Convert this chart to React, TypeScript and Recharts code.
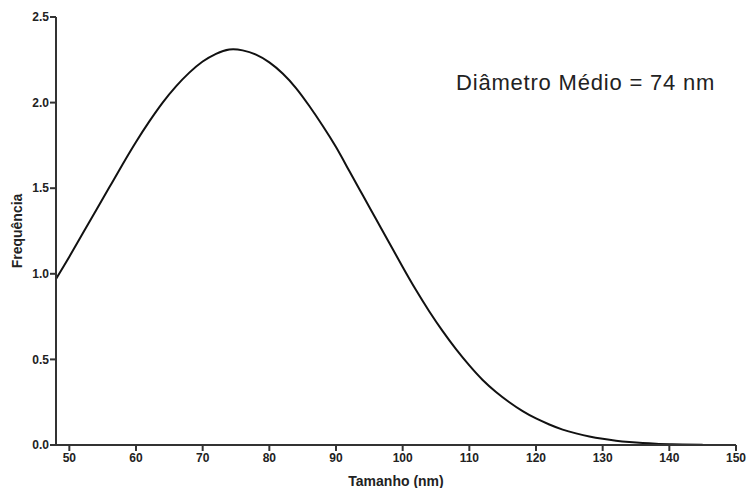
import { LineChart, Line, XAxis, YAxis } from "recharts";

const sizes = [
  48, 50, 52, 54, 56, 58, 60, 62, 64, 66, 68, 70, 72, 74, 76, 78, 80, 82, 84, 86,
  88, 90, 92, 94, 96, 98, 100, 102, 104, 106, 108, 110, 112, 114, 116, 118, 120,
  122, 124, 126, 128, 130, 132, 134, 136, 138, 140, 142, 145,
];
const frequency = [
  0.97, 1.1, 1.235, 1.37, 1.505, 1.64, 1.77, 1.89, 2.0, 2.095, 2.175, 2.24, 2.285,
  2.31, 2.305, 2.28, 2.235, 2.17, 2.085, 1.98, 1.865, 1.74, 1.6, 1.46, 1.32, 1.18,
  1.04, 0.905, 0.78, 0.665, 0.56, 0.465, 0.38, 0.31, 0.25, 0.198, 0.155, 0.12, 0.09,
  0.068, 0.05, 0.036, 0.025, 0.017, 0.011, 0.007, 0.0045, 0.003, 0.002,
];
const xTicks = [50, 60, 70, 80, 90, 100, 110, 120, 130, 140, 150];
const yTicks = [0, 0.5, 1, 1.5, 2, 2.5];

const data = sizes.map((s, i) => ({ size: s, freq: frequency[i] }));

const AXIS = "#333";
const FONT = "'Liberation Sans', Arial, sans-serif";
const tickStyle = {
  fontFamily: FONT,
  fontSize: 12,
  fontWeight: 700,
  fill: "#222",
};
const titleStyle = { ...tickStyle, fontSize: 14 };

function YTitle(props: any) {
  const vb = props.viewBox || {};
  const cy = (vb.y ?? 0) + (vb.height ?? 0) / 2;
  return (
    <text
      x={17}
      y={cy}
      transform={`rotate(-90 17 ${cy})`}
      textAnchor="middle"
      dominantBaseline="central"
      style={titleStyle}
    >
      Frequência
    </text>
  );
}

export default function App() {
  return (
    <div style={{ position: "absolute", left: 0, top: 0, width: 749, height: 488, background: "#fff" }}>
      <LineChart
        width={749}
        height={488}
        data={data}
        margin={{ top: 17, right: 13, bottom: 0, left: 0 }}
      >
        <XAxis
          dataKey="size"
          type="number"
          domain={[48, 150]}
          ticks={xTicks}
          allowDataOverflow
          height={43}
          stroke={AXIS}
          strokeWidth={2}
          tickSize={6}
          tickMargin={2}
          tick={tickStyle}
          tickLine={{ stroke: AXIS, strokeWidth: 2 }}
          label={{
            value: "Tamanho (nm)",
            position: "insideBottom",
            offset: 2,
            style: titleStyle,
          }}
        />
        <YAxis
          type="number"
          domain={[0, 2.5]}
          ticks={yTicks}
          tickFormatter={(v: number) => v.toFixed(1)}
          width={56}
          stroke={AXIS}
          strokeWidth={2}
          tickSize={6}
          tickMargin={1}
          tick={tickStyle}
          tickLine={{ stroke: AXIS, strokeWidth: 2 }}
          label={<YTitle />}
        />
        <Line
          type="natural"
          dataKey="freq"
          stroke="#111"
          strokeWidth={2}
          dot={false}
          isAnimationActive={false}
        />
      </LineChart>
      <div
        style={{
          position: "absolute",
          left: 456,
          top: 70,
          fontFamily: FONT,
          fontSize: 22,
          letterSpacing: 0.8,
          color: "#222",
          whiteSpace: "nowrap",
        }}
      >
        Diâmetro Médio = 74 nm
      </div>
    </div>
  );
}
